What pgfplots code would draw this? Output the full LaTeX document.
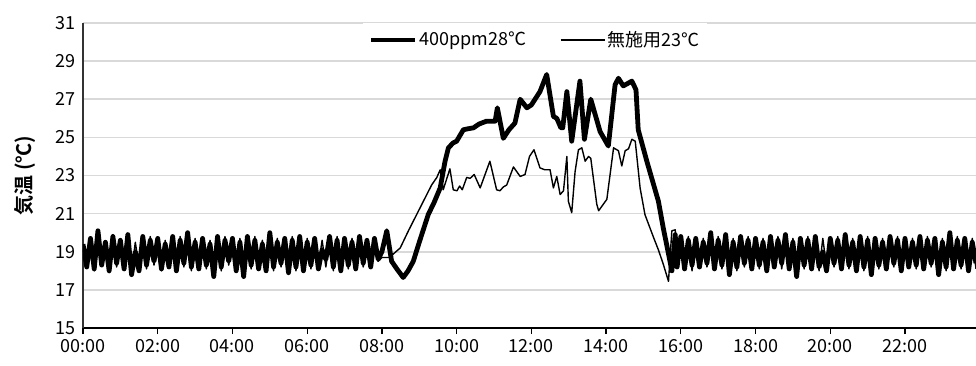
\documentclass[border=0pt]{standalone}
\usepackage{fontspec}
\setmainfont{Noto Sans CJK JP}[BoldFont={Noto Sans CJK JP Bold}]
\usepackage{pgfplots}
\pgfplotsset{compat=1.18}
\definecolor{gridgray}{RGB}{217,217,217}
\pgfplotstableread{
x y
0.0 19.4
0.1 18.2
0.2 19.7
0.3 18.1
0.4 20.1
0.5 18.3
0.6 19.5
0.7 18.0
0.8 19.8
0.9 18.4
1.0 19.6
1.1 18.1
1.2 19.9
1.3 17.8
1.4 19.0
1.5 18.0
1.6 19.8
1.7 18.3
1.8 19.6
1.9 18.5
2.0 19.7
2.1 18.1
2.2 19.4
2.3 18.2
2.4 19.8
2.5 18.0
2.6 19.6
2.7 18.4
2.8 20.0
2.9 18.2
3.0 19.5
3.1 18.1
3.2 19.7
3.3 18.3
3.4 19.4
3.5 17.7
3.6 19.8
3.7 18.2
3.8 19.6
3.9 18.5
4.0 19.7
4.1 18.0
4.2 19.5
4.3 17.7
4.4 19.8
4.5 18.3
4.6 19.6
4.7 18.1
4.8 19.4
4.9 18.0
5.0 20.0
5.1 18.2
5.2 19.5
5.3 18.4
5.4 19.7
5.5 17.9
5.6 19.6
5.7 18.2
5.8 19.8
5.9 18.0
6.0 19.5
6.1 18.3
6.2 19.7
6.3 18.1
6.4 19.1
6.5 18.6
6.6 19.8
6.7 18.2
6.8 19.6
6.9 18.0
7.0 19.7
7.1 18.3
7.2 19.5
7.3 18.1
7.4 19.8
7.5 18.4
7.6 19.6
7.7 18.2
7.8 19.7
7.9 18.6
8.0 19.0
8.13 20.1
8.26 18.5
8.4 18.1
8.57 17.65
8.7 18.0
8.84 18.5
9.0 19.5
9.24 20.95
9.4 21.6
9.56 22.35
9.69 23.75
9.78 24.45
9.9 24.7
10.0 24.8
10.18 25.4
10.3 25.45
10.45 25.5
10.6 25.7
10.8 25.85
11.03 25.85
11.09 26.55
11.25 24.95
11.4 25.4
11.56 25.75
11.7 27.0
11.88 26.55
12.0 26.7
12.23 27.4
12.41 28.3
12.59 26.1
12.68 26.0
12.79 25.5
12.84 25.5
12.95 27.4
13.08 24.8
13.3 27.95
13.42 24.9
13.59 27.0
13.84 25.3
14.06 24.55
14.24 27.75
14.33 28.1
14.46 27.7
14.69 27.95
14.8 27.5
14.86 25.4
15.09 23.75
15.4 21.65
15.53 20.25
15.7 18.6
15.76 18.0
15.85 19.9
15.9 18.2
16.0 19.8
16.1 18.1
16.2 19.6
16.3 18.3
16.4 19.7
16.5 18.2
16.6 19.5
16.7 18.4
16.8 20.0
16.9 18.1
17.0 19.6
17.1 18.3
17.2 19.9
17.3 17.8
17.4 19.5
17.5 18.2
17.6 19.8
17.7 18.4
17.8 19.6
17.9 18.1
18.0 19.7
18.1 18.3
18.2 19.5
18.3 18.0
18.4 19.8
18.5 18.2
18.6 19.6
18.7 18.4
18.8 19.9
18.9 18.1
19.0 19.5
19.1 17.7
19.2 19.7
19.3 18.3
19.4 19.6
19.5 18.1
19.6 19.8
19.7 18.2
19.8 19.0
19.9 18.0
20.0 19.7
20.1 18.4
20.2 19.6
20.3 18.1
20.4 19.9
20.5 18.3
20.6 19.5
20.7 18.0
20.8 19.8
20.9 18.2
21.0 19.6
21.1 17.8
21.2 19.7
21.3 18.3
21.4 19.5
21.5 18.1
21.6 19.8
21.7 18.4
21.8 19.6
21.9 18.0
22.0 19.7
22.1 18.2
22.2 19.5
22.3 18.3
22.4 19.8
22.5 18.1
22.6 19.6
22.7 18.4
22.8 19.7
22.9 17.8
23.0 19.5
23.1 18.2
23.2 20.0
23.3 18.1
23.4 19.6
23.5 18.3
23.6 19.7
23.7 18.0
23.8 19.5
23.9 18.4
}\thick
\pgfplotstableread{
x y
0.0 19.1
0.1 18.4
0.2 19.5
0.3 18.0
0.4 19.7
0.5 18.5
0.6 19.3
0.7 17.9
0.8 19.9
0.9 18.2
1.0 19.4
1.1 18.3
1.2 19.7
1.3 17.9
1.4 19.5
1.5 18.2
1.6 19.6
1.7 18.1
1.8 19.8
1.9 18.3
2.0 19.5
2.1 18.0
2.2 19.6
2.3 18.4
2.4 19.6
2.5 18.2
2.6 19.8
2.7 18.2
2.8 19.7
2.9 18.0
3.0 19.7
3.1 18.3
3.2 19.5
3.3 18.1
3.4 19.6
3.5 18.2
3.6 19.6
3.7 18.0
3.8 19.8
3.9 18.3
4.0 19.5
4.1 18.2
4.2 19.7
4.3 18.1
4.4 19.6
4.5 18.1
4.6 19.8
4.7 18.3
4.8 19.6
4.9 18.2
5.0 19.7
5.1 18.0
5.2 19.7
5.3 18.2
5.4 19.5
5.5 18.1
5.6 19.8
5.7 18.0
5.8 19.6
5.9 18.2
6.0 19.7
6.1 18.1
6.2 19.5
6.3 18.3
6.4 19.6
6.5 18.2
6.6 19.6
6.7 18.0
6.8 19.8
6.9 18.2
7.0 19.5
7.1 18.1
7.2 19.7
7.3 18.3
7.4 19.6
7.5 18.2
7.6 19.4
7.7 18.4
7.8 19.3
7.9 18.5
8.0 18.7
8.2 18.7
8.49 19.2
8.71 20.1
9.02 21.3
9.33 22.5
9.47 22.9
9.56 23.3
9.64 22.25
9.82 23.35
9.91 22.25
10.01 22.2
10.08 22.45
10.15 22.25
10.27 22.9
10.36 22.85
10.47 23.05
10.63 22.35
10.89 23.75
11.07 22.25
11.16 22.2
11.25 22.4
11.34 22.5
11.52 23.45
11.7 22.95
11.83 23.05
11.95 24.0
12.07 24.35
12.23 23.4
12.36 23.3
12.5 23.3
12.59 22.35
12.68 22.95
12.77 22.0
12.86 22.2
12.95 24.0
12.99 21.65
13.08 21.05
13.17 23.2
13.26 24.35
13.35 24.45
13.44 23.75
13.53 24.0
13.59 23.9
13.75 21.5
13.8 21.15
14.02 21.75
14.2 24.45
14.33 24.3
14.42 23.5
14.51 24.3
14.6 24.4
14.69 24.9
14.78 24.8
14.91 22.35
15.04 20.95
15.27 19.75
15.4 19.1
15.53 18.35
15.67 17.45
15.76 20.1
15.85 20.15
15.92 18.2
16.0 19.5
16.1 18.4
16.2 19.8
16.3 18.0
16.4 19.5
16.5 18.3
16.6 19.7
16.7 18.2
16.8 19.6
16.9 18.3
17.0 19.8
17.1 18.1
17.2 19.6
17.3 18.2
17.4 19.7
17.5 18.0
17.6 19.6
17.7 18.2
17.8 19.8
17.9 18.3
18.0 19.5
18.1 18.1
18.2 19.7
18.3 18.2
18.4 19.6
18.5 18.4
18.6 19.8
18.7 18.1
18.8 19.6
18.9 18.3
19.0 19.7
19.1 18.2
19.2 19.5
19.3 18.1
19.4 19.8
19.5 18.3
19.6 19.6
19.7 18.0
19.8 19.7
19.9 18.2
20.0 19.5
20.1 18.2
20.2 19.8
20.3 18.3
20.4 19.6
20.5 18.1
20.6 19.7
20.7 18.2
20.8 19.6
20.9 18.0
21.0 19.8
21.1 18.2
21.2 19.5
21.3 18.1
21.4 19.7
21.5 18.3
21.6 19.6
21.7 18.2
21.8 19.8
21.9 18.1
22.0 19.5
22.1 18.4
22.2 19.7
22.3 18.1
22.4 19.6
22.5 18.3
22.6 19.8
22.7 18.2
22.8 19.5
22.9 18.2
23.0 19.7
23.1 18.0
23.2 19.6
23.3 18.3
23.4 19.8
23.5 18.1
23.6 19.5
23.7 18.2
23.8 19.7
23.9 18.1
}\thin
\begin{document}
\begin{tikzpicture}
\path[use as bounding box] (0,0) rectangle (488pt,182.5pt);
\begin{axis}[
  at={(41.5pt,18.5pt)}, anchor=south west,
  scale only axis, width=446.5pt, height=152.5pt,
  xmin=0, xmax=23.9, ymin=15, ymax=31,
  xtick={0,2,4,6,8,10,12,14,16,18,20,22},
  xticklabels={00:00,02:00,04:00,06:00,08:00,10:00,12:00,14:00,16:00,18:00,20:00,22:00},
  ytick={15,17,19,21,23,25,27,29,31},
  ymajorgrids, grid style={gridgray, line width=0.75pt},
  axis x line*=bottom, axis y line*=left,
  x axis line style={black, line width=0.7pt},
  y axis line style={black!80, line width=0.7pt},
  xtick align=outside, major tick length=3pt,
  xtick style={black, line width=0.6pt},
  ytick style={draw=none},
  tick label style={font=\fontsize{9}{10}\selectfont},
  xticklabel style={yshift=1pt},
  /pgf/number format/assume math mode=true,
  ylabel={\bfseries 気温 (℃)},
  ylabel style={at={(axis description cs:-0.065,0.5)}, anchor=center, font=\fontsize{10}{11}\selectfont},
  legend style={at={(0.506,0.944)}, anchor=center, draw=none, fill=white,
    font=\fontsize{9}{10}\selectfont, legend columns=2,
    nodes={inner xsep=0.8pt},
    /tikz/every even column/.append style={column sep=16pt}},
  legend image code/.code={\draw[#1] (0pt,0pt) -- (22pt,0pt);},
]
\addplot[black, line width=2.4pt, line join=round] table[x=x,y=y] {\thick};
\addlegendentry{400ppm28℃}
\addplot[black, line width=0.7pt, line join=round] table[x=x,y=y] {\thin};
\addlegendentry{無施用23℃}
\end{axis}
\end{tikzpicture}
\end{document}
